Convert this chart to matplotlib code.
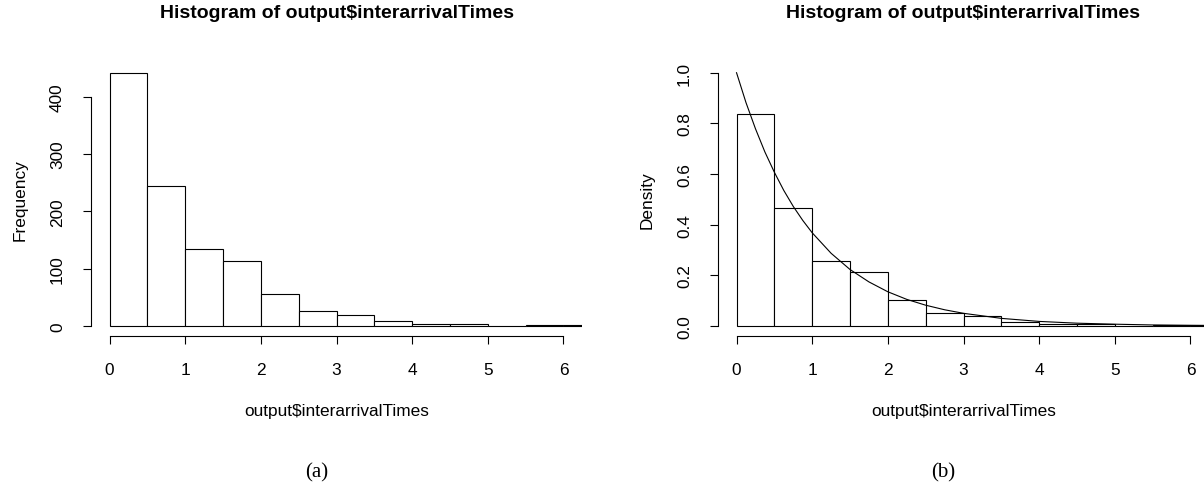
import numpy as np
import matplotlib
matplotlib.use('Agg')
import matplotlib.pyplot as plt

plt.rcParams['font.family'] = ['Liberation Sans', 'DejaVu Sans']

# histogram of interarrival times, bins of width 0.5
breaks = [0, 0.5, 1, 1.5, 2, 2.5, 3, 3.5, 4, 4.5, 5, 5.5, 6, 6.5]
counts = [442, 245, 135, 113, 55, 26, 20, 8, 4, 4, 0, 2, 1]

# density curve
curve_x = [0, 0.125, 0.25, 0.375, 0.5, 0.625, 0.75, 0.875, 1.0, 1.25, 1.5, 1.75,
           2.0, 2.25, 2.5, 2.75, 3.0, 3.5, 4.0, 4.5, 5.0, 5.5, 6.0, 6.5]
curve_y = [1.000, 0.882, 0.779, 0.687, 0.607, 0.535, 0.472, 0.417, 0.368, 0.287, 0.223, 0.174,
           0.135, 0.105, 0.082, 0.064, 0.050, 0.030, 0.018, 0.011, 0.007, 0.004, 0.0025, 0.0015]

xticks = [0, 1, 2, 3, 4, 5, 6]
freq_ticks = [0, 100, 200, 300, 400]
dens_ticks = [0.0, 0.2, 0.4, 0.6, 0.8, 1.0]
dens_labels = ['0.0', '0.2', '0.4', '0.6', '0.8', '1.0']

title = 'Histogram of output$interarrivalTimes'
xlab = 'output$interarrivalTimes'

W, H = 1204, 485
fig = plt.figure(figsize=(W / 100, H / 100), dpi=100)

lefts = np.array(breaks[:-1])
widths = np.diff(breaks)
cnt = np.array(counts, dtype=float)
density = cnt / (cnt.sum() * widths)

lw = 0.8
fs = 12.4
axw = 491       # plot region width, px
axh = 273.5     # plot region height, px


def style_axes(ax, yticks, ylabels, ybounds, ylabel):
    for s in ['top', 'right']:
        ax.spines[s].set_visible(False)
    for s in ['left', 'bottom']:
        ax.spines[s].set_linewidth(lw)
    ax.spines['bottom'].set_bounds(0, 6)
    ax.spines['left'].set_bounds(*ybounds)
    ax.set_xticks(xticks)
    ax.set_xticklabels([str(t) for t in xticks])
    ax.set_yticks(yticks)
    ax.set_yticklabels(ylabels, rotation=90, va='center')
    ax.tick_params(axis='both', length=5.8, width=lw, labelsize=fs)
    ax.tick_params(axis='x', pad=12.5)
    ax.tick_params(axis='y', pad=13)
    ax.set_title(title, fontsize=14, fontweight='bold', pad=33)
    ax.set_xlabel(xlab, fontsize=fs)
    ax.xaxis.set_label_coords(0.5, -67 / axh)
    ax.set_ylabel(ylabel, fontsize=fs, va='center')
    ax.yaxis.set_label_coords(-71 / axw, (337.1 - 200) / axh)


bottom = (H - 337.1) / H
height = axh / H

# (a) frequency
ax1 = fig.add_axes([91 / W, bottom, axw / W, height])
ax1.bar(lefts, cnt, width=widths, align='edge', facecolor='white', edgecolor='black', linewidth=lw)
ax1.set_xlim(-0.245, 6.245)
ax1.set_ylim(-0.04 * max(counts), 1.04 * max(counts))
style_axes(ax1, freq_ticks, [str(t) for t in freq_ticks], (0, 400), 'Frequency')

# (b) density with curve
ax2 = fig.add_axes([718 / W, bottom, axw / W, height])
ax2.bar(lefts, density, width=widths, align='edge', facecolor='white', edgecolor='black', linewidth=lw)
ax2.plot(curve_x, curve_y, color='black', linewidth=lw)
ax2.set_xlim(-0.245, 6.245)
ax2.set_ylim(-0.04, 1.04)
style_axes(ax2, dens_ticks, dens_labels, (0, 1), 'Density')

fig.text(317 / W, 1 - 473 / H, '(a)', family='Liberation Serif', fontsize=15, ha='center', va='center')
fig.text(943 / W, 1 - 473 / H, '(b)', family='Liberation Serif', fontsize=15, ha='center', va='center')

fig.savefig('out.png', dpi=100)
